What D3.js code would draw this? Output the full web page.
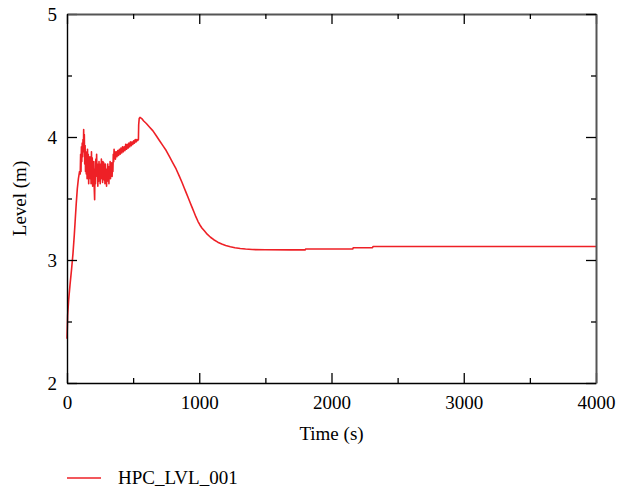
<!DOCTYPE html>
<html>
<head>
<meta charset="utf-8">
<script src="https://cdn.jsdelivr.net/npm/d3@7"></script>
<style>
  body { margin: 0; background: #fff; }
  text { font-family: "Liberation Serif", "Times New Roman", serif; }
</style>
</head>
<body>
<div id="chart"></div>
<script>
// Series name and axis ticks
const seriesName = "HPC_LVL_001";
const xMajorTicks = [0, 1000, 2000, 3000, 4000];
const xMinorTicks = [500, 1500, 2500, 3500];
const yMajorTicks = [2, 3, 4, 5];
const yMinorTicks = [2.5, 3.5, 4.5];

// Level (m) vs time (s): [time, level]
const startupRise = [
    [0, 2.36], [5, 2.55], [12, 2.67], [23, 2.80], [35, 2.93], [45, 3.05],
    [55, 3.20], [63, 3.34], [70, 3.46], [78, 3.58], [86, 3.66], [95, 3.72]
];

// oscillating part
const oscillation = [
    [100, 3.70], [103, 3.86], [106, 3.72], [109, 3.92], [112, 3.80], [115, 3.95],
    [118, 3.84], [121, 3.98], [124, 3.88], [126, 4.06], [128, 3.90], [131, 4.02],
    [134, 3.78], [137, 3.93], [140, 3.72], [143, 3.88], [146, 3.70], [149, 3.85],
    [152, 3.66], [155, 3.90], [158, 3.75], [161, 3.86], [164, 3.62], [167, 3.82],
    [170, 3.70], [173, 3.84], [176, 3.66], [179, 3.80], [182, 3.62], [185, 3.88],
    [188, 3.70], [191, 3.83], [194, 3.60], [197, 3.79], [200, 3.65], [203, 3.80],
    [206, 3.58], [209, 3.49], [212, 3.74], [215, 3.62], [218, 3.82], [221, 3.68],
    [224, 3.86], [227, 3.70], [230, 3.78], [233, 3.60], [236, 3.75], [239, 3.64],
    [242, 3.80], [245, 3.66], [248, 3.74], [251, 3.62], [254, 3.78], [257, 3.68],
    [260, 3.82], [263, 3.66], [266, 3.76], [269, 3.63], [272, 3.80], [275, 3.68],
    [278, 3.79], [281, 3.65], [284, 3.74], [287, 3.62], [290, 3.78], [293, 3.66],
    [296, 3.74], [299, 3.60], [302, 3.72], [305, 3.64], [308, 3.78], [311, 3.67],
    [314, 3.76], [317, 3.62], [320, 3.74], [323, 3.68], [326, 3.80], [329, 3.66],
    [332, 3.75], [335, 3.70], [338, 3.79], [341, 3.68], [344, 3.77], [347, 3.72],
    [350, 3.86], [353, 3.80], [356, 3.90], [359, 3.84], [362, 3.88]
];

// slow climb with small jitter before the jump
const slowClimb = [
    [366, 3.82], [372, 3.88], [378, 3.84], [384, 3.89], [390, 3.85], [396, 3.90],
    [402, 3.86], [408, 3.91], [414, 3.87], [420, 3.92], [426, 3.88], [432, 3.92],
    [438, 3.89], [444, 3.94], [450, 3.90], [456, 3.94], [462, 3.91], [468, 3.95],
    [474, 3.92], [480, 3.96], [486, 3.93], [492, 3.96], [498, 3.94], [504, 3.97],
    [510, 3.95], [516, 3.98], [522, 3.96], [528, 3.98], [534, 3.97], [540, 3.98]
];

// jump, drain down and settle
const drainAndSettle = [
    [542, 4.10], [546, 4.15], [552, 4.16], [565, 4.15], [580, 4.13], [600, 4.11],
    [625, 4.08], [650, 4.05], [675, 4.01], [700, 3.97], [725, 3.93], [750, 3.89],
    [775, 3.84], [800, 3.79], [825, 3.74], [850, 3.68], [870, 3.63], [885, 3.59],
    [900, 3.55], [915, 3.51], [930, 3.47], [945, 3.43], [960, 3.39], [975, 3.35],
    [990, 3.315], [1005, 3.285], [1020, 3.26], [1040, 3.235], [1060, 3.21],
    [1085, 3.185], [1110, 3.165], [1140, 3.145], [1170, 3.13], [1200, 3.118],
    [1235, 3.108], [1270, 3.10], [1310, 3.094], [1350, 3.089], [1400, 3.085],
    [1500, 3.083], [1690, 3.082], [1800, 3.082], [1805, 3.089], [2160, 3.089],
    [2165, 3.10], [2310, 3.10], [2315, 3.11], [4000, 3.11]
];

const levelData = [...startupRise, ...oscillation, ...slowClimb, ...drainAndSettle];

// Set up dimensions and margins
const margin = { top: 14, right: 32, bottom: 106, left: 67 },
    totalWidth = 628,
    totalHeight = 489,
    width = totalWidth - margin.left - margin.right,
    height = totalHeight - margin.top - margin.bottom;

const svg = d3.select("#chart")
    .append("svg")
    .attr("width", totalWidth)
    .attr("height", totalHeight);

const g = svg.append("g")
    .attr("transform", `translate(${margin.left},${margin.top})`);

const xScale = d3.scaleLinear().domain([0, 4000]).range([0, width]);
const yScale = d3.scaleLinear().domain([2, 5]).range([height, 0]);

const fontSize = 19;

// Line first, axes drawn over it
const line = d3.line()
    .x((d) => xScale(d[0]))
    .y((d) => yScale(d[1]));

g.append("path")
    .datum(levelData)
    .attr("fill", "none")
    .attr("stroke", "#ee2026")
    .attr("stroke-width", 1.6)
    .attr("stroke-linejoin", "round")
    .attr("d", line);

function styleAxis(sel, color, w) {
    sel.selectAll(".domain").attr("stroke", color).attr("stroke-width", w);
    sel.selectAll(".tick line").attr("stroke", "#000").attr("stroke-width", 1.3);
    sel.selectAll(".tick text")
        .attr("fill", "#000")
        .style("font-size", fontSize + "px")
        .style("font-family", '"Liberation Serif", serif');
}

// bottom axis
const xAxisG = g.append("g")
    .attr("transform", `translate(0,${height})`)
    .call(d3.axisBottom(xScale).tickValues(xMajorTicks).tickSizeInner(-10).tickSizeOuter(0).tickPadding(13).tickFormat(d3.format("d")));
styleAxis(xAxisG, "#000", 1.4);

g.append("g")
    .attr("transform", `translate(0,${height})`)
    .call(d3.axisBottom(xScale).tickValues(xMinorTicks).tickSizeInner(-5).tickSizeOuter(0).tickFormat(""))
    .call((s) => s.select(".domain").remove())
    .call((s) => styleAxis(s, "#000", 1));

// left axis
const yAxisG = g.append("g")
    .call(d3.axisLeft(yScale).tickValues(yMajorTicks).tickSizeInner(-10).tickSizeOuter(0).tickPadding(10).tickFormat(d3.format("d")));
styleAxis(yAxisG, "#000", 1.4);

g.append("g")
    .call(d3.axisLeft(yScale).tickValues(yMinorTicks).tickSizeInner(-5).tickSizeOuter(0).tickFormat(""))
    .call((s) => s.select(".domain").remove())
    .call((s) => styleAxis(s, "#000", 1));

// top and right mirror axes
const topG = g.append("g")
    .call(d3.axisTop(xScale).tickValues(xMajorTicks).tickSizeInner(-10).tickSizeOuter(0).tickFormat(""));
styleAxis(topG, "#555", 2);
g.append("g")
    .call(d3.axisTop(xScale).tickValues(xMinorTicks).tickSizeInner(-5).tickSizeOuter(0).tickFormat(""))
    .call((s) => s.select(".domain").remove())
    .call((s) => styleAxis(s, "#555", 1));

const rightG = g.append("g")
    .attr("transform", `translate(${width},0)`)
    .call(d3.axisRight(yScale).tickValues(yMajorTicks).tickSizeInner(-10).tickSizeOuter(0).tickFormat(""));
styleAxis(rightG, "#555", 2);
g.append("g")
    .attr("transform", `translate(${width},0)`)
    .call(d3.axisRight(yScale).tickValues(yMinorTicks).tickSizeInner(-5).tickSizeOuter(0).tickFormat(""))
    .call((s) => s.select(".domain").remove())
    .call((s) => styleAxis(s, "#555", 1));

// Axis titles
svg.append("text")
    .attr("x", margin.left + width / 2)
    .attr("y", 440)
    .attr("text-anchor", "middle")
    .style("font-size", fontSize + "px")
    .text("Time (s)");

svg.append("text")
    .attr("transform", `translate(26,${margin.top + height / 2}) rotate(-90)`)
    .attr("text-anchor", "middle")
    .style("font-size", fontSize + "px")
    .text("Level (m)");

// Legend
svg.append("line")
    .attr("x1", 67).attr("x2", 101)
    .attr("y1", 478).attr("y2", 478)
    .attr("stroke", "#ee2026")
    .attr("stroke-width", 1.3);

svg.append("text")
    .attr("x", 118)
    .attr("y", 484)
    .style("font-size", fontSize + "px")
    .text(seriesName);
</script>
</body>
</html>
